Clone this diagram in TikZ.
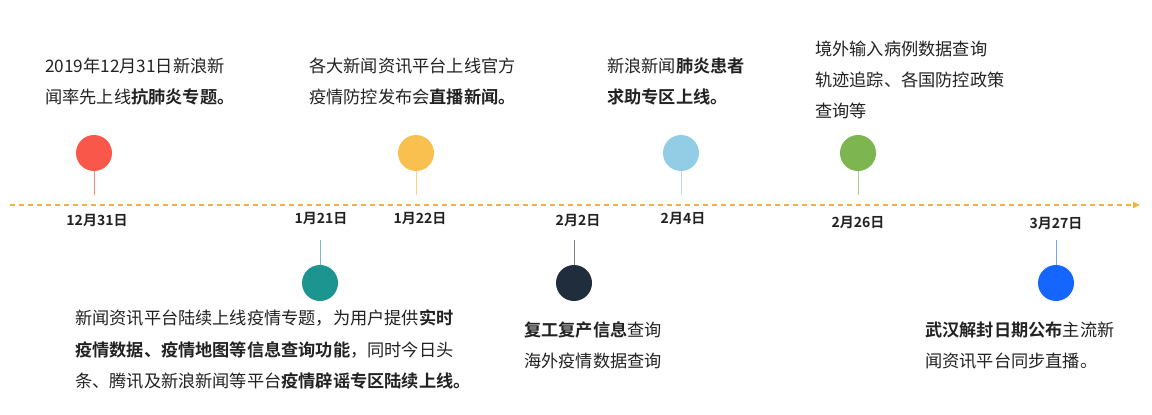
\documentclass[tikz,border=0pt]{standalone}
\usepackage{fontspec}
\setmainfont{Noto Sans CJK SC}[BoldFont={Noto Sans CJK SC Bold}]
\usetikzlibrary{arrows.meta}
\definecolor{txt}{HTML}{222222}
\definecolor{axis}{HTML}{F2B43C}
\tikzset{
 dot/.style={circle,minimum size=36pt,inner sep=0pt,fill=#1},
 stem/.style={draw=#1,line width=0.8pt},
 date/.style={font=\fontsize{14}{16}\selectfont\bfseries,text=txt,inner sep=0pt},
 line/.style={anchor=west,font=\fontsize{17.2}{20}\selectfont,text=txt,inner sep=0pt},
}
\begin{document}
\begin{tikzpicture}[x=1pt,y=-1pt]
\useasboundingbox (0,0) rectangle (1152,415);
\coordinate (s) at (10,205); \coordinate (e) at (1140,205);
\draw[axis,line width=1.4pt,dash pattern=on 5pt off 4pt,-{Triangle[length=7pt,width=6pt]}] (s) -- (e);
\foreach \n/\x/\c in {a/94/F9574A,b/416/F9C04F,c/681/93CDE5,d/858/7DB650}{
 \definecolor{tmp\n}{HTML}{\c}
 \node[dot=tmp\n] (\n) at (\x,153) {};
 \coordinate (\n s) at (\x,195);
 \draw[stem=tmp\n!70] (\n.south) -- (\n s);
}
\foreach \n/\x/\c in {f/320/1C9490,g/574/1F2D3D,h/1056/1565FF}{
 \definecolor{tmp\n}{HTML}{\c}
 \node[dot=tmp\n] (\n) at (\x,283) {};
 \coordinate (\n s) at (\x,240);
 \draw[stem=tmp\n!60] (\n.north) -- (\n s);
}
\node[date] (d1) at (97,221) {12月31日};
\node[date] (d2) at (321,219) {1月21日};
\node[date] (d3) at (420,219) {1月22日};
\node[date] (d4) at (578,221) {2月2日};
\node[date] (d5) at (683,219) {2月4日};
\node[date] (d6) at (858,223) {2月26日};
\node[date] (d7) at (1056,224) {3月27日};
\node[line] (t1a) at (45,66) {2019年12月31日新浪新};
\node[line] (t1b) at (45,97) {闻率先上线\textbf{抗肺炎专题。}};
\node[line] (t2a) at (309,66) {各大新闻资讯平台上线官方};
\node[line] (t2b) at (309,97) {疫情防控发布会\textbf{直播新闻。}};
\node[line] (t3a) at (607,66) {新浪新闻\textbf{肺炎患者}};
\node[line] (t3b) at (607,97) {\textbf{求助专区上线。}};
\node[line] (t4a) at (815,49) {境外输入病例数据查询};
\node[line] (t4b) at (815,80) {轨迹追踪、各国防控政策};
\node[line] (t4c) at (815,111) {查询等};
\node[line] (t5a) at (75,318) {新闻资讯平台陆续上线疫情专题，为用户提供\textbf{实时}};
\node[line] (t5b) at (75,350) {\textbf{疫情数据、疫情地图等信息查询功能}，同时今日头};
\node[line] (t5c) at (75,381) {条、腾讯及新浪新闻等平台\textbf{疫情辟谣专区陆续上线。}};
\node[line] (t6a) at (524,330) {\textbf{复工复产信息}查询};
\node[line] (t6b) at (524,361) {海外疫情数据查询};
\node[line] (t7a) at (925,330) {\textbf{武汉解封日期公布}主流新};
\node[line] (t7b) at (925,361) {闻资讯平台同步直播。};
\end{tikzpicture}
\end{document}
